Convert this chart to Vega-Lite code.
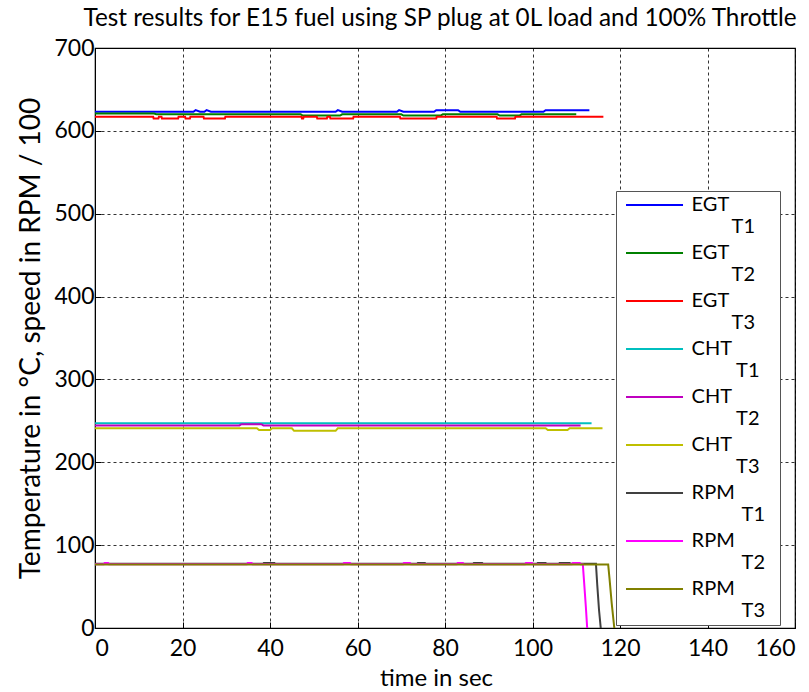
{
  "$schema": "https://vega.github.io/schema/vega-lite/v6.json",
  "width": 700,
  "height": 580,
  "autosize": {"type": "none"},
  "padding": {"left": 95, "top": 48, "right": 14, "bottom": 64},
  "background": "white",
  "title": {
    "text": "Test results for E15 fuel using SP plug at 0L load and 100% Throttle",
    "fontSize": 24.3,
    "fontWeight": "normal",
    "font": "Lato",
    "color": "black",
    "anchor": "middle",
    "offset": 6,
    "dx": -5
  },
  "config": {
    "font": "Lato",
    "view": {"stroke": "black", "strokeWidth": 1.2},
    "axis": {
      "labelFontSize": 23,
      "labelColor": "black",
      "titleFontSize": 24,
      "titleFontWeight": "normal",
      "titleColor": "black",
      "domainColor": "black",
      "tickColor": "black",
      "gridColor": "black",
      "gridDash": [3, 3],
      "gridOpacity": 0.8,
      "gridWidth": 1,
      "tickSize": -6
    },
    "legend": {
      "orient": "none",
      "legendX": 521,
      "legendY": 143,
      "strokeColor": "#555555",
      "fillColor": "white",
      "padding": 4,
      "symbolType": "M-0.7,0H9.3",
      "symbolSize": 130,
      "symbolStrokeWidth": 2,
      "labelFontSize": 20,
      "labelColor": "black",
      "labelOffset": 51.6,
      "rowPadding": 6
    }
  },
  "datasets": {
    "d": [
      {"s": "EGT_T1", "t": 0, "v": 623}, {"s": "EGT_T1", "t": 22.5, "v": 623}, {"s": "EGT_T1", "t": 23, "v": 625}, {"s": "EGT_T1", "t": 24, "v": 623}, {"s": "EGT_T1", "t": 25, "v": 623}, {"s": "EGT_T1", "t": 25.5, "v": 625}, {"s": "EGT_T1", "t": 26.5, "v": 623}, {"s": "EGT_T1", "t": 55, "v": 623}, {"s": "EGT_T1", "t": 55.5, "v": 625}, {"s": "EGT_T1", "t": 56.5, "v": 623}, {"s": "EGT_T1", "t": 69, "v": 623}, {"s": "EGT_T1", "t": 69.5, "v": 625}, {"s": "EGT_T1", "t": 70.5, "v": 623}, {"s": "EGT_T1", "t": 77.5, "v": 623}, {"s": "EGT_T1", "t": 78, "v": 625}, {"s": "EGT_T1", "t": 83, "v": 625}, {"s": "EGT_T1", "t": 83.5, "v": 623}, {"s": "EGT_T1", "t": 102.5, "v": 623}, {"s": "EGT_T1", "t": 103, "v": 625}, {"s": "EGT_T1", "t": 113, "v": 625},

      {"s": "EGT_T2", "t": 0, "v": 621}, {"s": "EGT_T2", "t": 13.5, "v": 621}, {"s": "EGT_T2", "t": 14, "v": 620}, {"s": "EGT_T2", "t": 47, "v": 620}, {"s": "EGT_T2", "t": 47.5, "v": 618.5}, {"s": "EGT_T2", "t": 56, "v": 618.5}, {"s": "EGT_T2", "t": 56.5, "v": 620}, {"s": "EGT_T2", "t": 70, "v": 620}, {"s": "EGT_T2", "t": 70.5, "v": 618.5}, {"s": "EGT_T2", "t": 79, "v": 618.5}, {"s": "EGT_T2", "t": 79.5, "v": 620}, {"s": "EGT_T2", "t": 92, "v": 620}, {"s": "EGT_T2", "t": 92.5, "v": 618.5}, {"s": "EGT_T2", "t": 97, "v": 618.5}, {"s": "EGT_T2", "t": 97.5, "v": 620}, {"s": "EGT_T2", "t": 110, "v": 620},

      {"s": "EGT_T3", "t": 0, "v": 617}, {"s": "EGT_T3", "t": 13.3, "v": 617}, {"s": "EGT_T3", "t": 13.4, "v": 615}, {"s": "EGT_T3", "t": 14.5, "v": 615}, {"s": "EGT_T3", "t": 14.6, "v": 617}, {"s": "EGT_T3", "t": 15.2, "v": 617}, {"s": "EGT_T3", "t": 15.3, "v": 615}, {"s": "EGT_T3", "t": 19, "v": 615}, {"s": "EGT_T3", "t": 19.1, "v": 617}, {"s": "EGT_T3", "t": 20.6, "v": 617}, {"s": "EGT_T3", "t": 20.7, "v": 615}, {"s": "EGT_T3", "t": 21.7, "v": 615}, {"s": "EGT_T3", "t": 21.8, "v": 617}, {"s": "EGT_T3", "t": 24.8, "v": 617}, {"s": "EGT_T3", "t": 24.9, "v": 615}, {"s": "EGT_T3", "t": 29.7, "v": 615}, {"s": "EGT_T3", "t": 29.8, "v": 617}, {"s": "EGT_T3", "t": 47.2, "v": 617}, {"s": "EGT_T3", "t": 47.3, "v": 615}, {"s": "EGT_T3", "t": 47.6, "v": 615}, {"s": "EGT_T3", "t": 47.7, "v": 617}, {"s": "EGT_T3", "t": 50.7, "v": 617}, {"s": "EGT_T3", "t": 50.8, "v": 615}, {"s": "EGT_T3", "t": 53, "v": 615}, {"s": "EGT_T3", "t": 53.1, "v": 617}, {"s": "EGT_T3", "t": 53.7, "v": 617}, {"s": "EGT_T3", "t": 53.8, "v": 615}, {"s": "EGT_T3", "t": 59, "v": 615}, {"s": "EGT_T3", "t": 59.1, "v": 617}, {"s": "EGT_T3", "t": 69.7, "v": 617}, {"s": "EGT_T3", "t": 69.8, "v": 615}, {"s": "EGT_T3", "t": 78, "v": 615}, {"s": "EGT_T3", "t": 78.1, "v": 617}, {"s": "EGT_T3", "t": 91.8, "v": 617}, {"s": "EGT_T3", "t": 91.9, "v": 615}, {"s": "EGT_T3", "t": 96, "v": 615}, {"s": "EGT_T3", "t": 96.1, "v": 617}, {"s": "EGT_T3", "t": 116.2, "v": 617},

      {"s": "CHT_T1", "t": 0, "v": 247}, {"s": "CHT_T1", "t": 113.5, "v": 247},

      {"s": "CHT_T2", "t": 0, "v": 244.5}, {"s": "CHT_T2", "t": 33, "v": 244.5}, {"s": "CHT_T2", "t": 33.5, "v": 246}, {"s": "CHT_T2", "t": 38, "v": 246}, {"s": "CHT_T2", "t": 38.5, "v": 244.5}, {"s": "CHT_T2", "t": 111, "v": 244.5},

      {"s": "CHT_T3", "t": 0, "v": 241}, {"s": "CHT_T3", "t": 37, "v": 241}, {"s": "CHT_T3", "t": 37.5, "v": 239}, {"s": "CHT_T3", "t": 40, "v": 239}, {"s": "CHT_T3", "t": 40.5, "v": 241}, {"s": "CHT_T3", "t": 45, "v": 241}, {"s": "CHT_T3", "t": 45.5, "v": 238}, {"s": "CHT_T3", "t": 55, "v": 238}, {"s": "CHT_T3", "t": 55.5, "v": 241}, {"s": "CHT_T3", "t": 103, "v": 241}, {"s": "CHT_T3", "t": 103.5, "v": 239}, {"s": "CHT_T3", "t": 108, "v": 239}, {"s": "CHT_T3", "t": 108.5, "v": 241}, {"s": "CHT_T3", "t": 116, "v": 241},

      {"s": "RPM_T1", "t": 0, "v": 77.5}, {"s": "RPM_T1", "t": 38.4, "v": 77.5}, {"s": "RPM_T1", "t": 38.6, "v": 78.5}, {"s": "RPM_T1", "t": 41, "v": 78.5}, {"s": "RPM_T1", "t": 41.2, "v": 77.5}, {"s": "RPM_T1", "t": 73.6, "v": 77.5}, {"s": "RPM_T1", "t": 73.8, "v": 78.5}, {"s": "RPM_T1", "t": 75.4, "v": 78.5}, {"s": "RPM_T1", "t": 75.6, "v": 77.5}, {"s": "RPM_T1", "t": 86.4, "v": 77.5}, {"s": "RPM_T1", "t": 86.6, "v": 78.5}, {"s": "RPM_T1", "t": 88.5, "v": 78.5}, {"s": "RPM_T1", "t": 88.7, "v": 77.5}, {"s": "RPM_T1", "t": 101, "v": 77.5}, {"s": "RPM_T1", "t": 101.2, "v": 78.5}, {"s": "RPM_T1", "t": 103, "v": 78.5}, {"s": "RPM_T1", "t": 103.2, "v": 77.5}, {"s": "RPM_T1", "t": 106, "v": 77.5}, {"s": "RPM_T1", "t": 106.2, "v": 78.5}, {"s": "RPM_T1", "t": 108.5, "v": 78.5}, {"s": "RPM_T1", "t": 108.7, "v": 77.5}, {"s": "RPM_T1", "t": 114.5, "v": 77.5}, {"s": "RPM_T1", "t": 114.8, "v": 52}, {"s": "RPM_T1", "t": 115.2, "v": 22}, {"s": "RPM_T1", "t": 115.6, "v": 0},

      {"s": "RPM_T2", "t": 0, "v": 77}, {"s": "RPM_T2", "t": 2, "v": 77}, {"s": "RPM_T2", "t": 2.2, "v": 78.5}, {"s": "RPM_T2", "t": 3, "v": 78.5}, {"s": "RPM_T2", "t": 3.2, "v": 77}, {"s": "RPM_T2", "t": 34.7, "v": 77}, {"s": "RPM_T2", "t": 34.9, "v": 78.5}, {"s": "RPM_T2", "t": 35.8, "v": 78.5}, {"s": "RPM_T2", "t": 36, "v": 77}, {"s": "RPM_T2", "t": 56.7, "v": 77}, {"s": "RPM_T2", "t": 56.9, "v": 78.5}, {"s": "RPM_T2", "t": 58.3, "v": 78.5}, {"s": "RPM_T2", "t": 58.5, "v": 77}, {"s": "RPM_T2", "t": 70.4, "v": 77}, {"s": "RPM_T2", "t": 70.6, "v": 78.5}, {"s": "RPM_T2", "t": 72, "v": 78.5}, {"s": "RPM_T2", "t": 72.2, "v": 77}, {"s": "RPM_T2", "t": 82.7, "v": 77}, {"s": "RPM_T2", "t": 82.9, "v": 78.5}, {"s": "RPM_T2", "t": 84.1, "v": 78.5}, {"s": "RPM_T2", "t": 84.3, "v": 77}, {"s": "RPM_T2", "t": 98.3, "v": 77}, {"s": "RPM_T2", "t": 98.5, "v": 78.5}, {"s": "RPM_T2", "t": 99.9, "v": 78.5}, {"s": "RPM_T2", "t": 100.1, "v": 77}, {"s": "RPM_T2", "t": 109, "v": 77}, {"s": "RPM_T2", "t": 109.2, "v": 78.5}, {"s": "RPM_T2", "t": 110.8, "v": 78.5}, {"s": "RPM_T2", "t": 111, "v": 77}, {"s": "RPM_T2", "t": 111.5, "v": 77}, {"s": "RPM_T2", "t": 111.8, "v": 55}, {"s": "RPM_T2", "t": 112.2, "v": 25}, {"s": "RPM_T2", "t": 112.5, "v": 0},

      {"s": "RPM_T3", "t": 0, "v": 76.5}, {"s": "RPM_T3", "t": 117.3, "v": 76.5}, {"s": "RPM_T3", "t": 117.6, "v": 60}, {"s": "RPM_T3", "t": 118.1, "v": 30}, {"s": "RPM_T3", "t": 118.7, "v": 0}
    ]
  },
  "data": {"name": "d"},
  "mark": {"type": "line", "strokeWidth": 2, "clip": true},
  "encoding": {
    "x": {
      "field": "t",
      "type": "quantitative",
      "scale": {"domain": [0, 160], "nice": false},
      "axis": {"values": [0, 20, 40, 60, 80, 100, 120, 140, 160], "title": "time in sec", "labelPadding": 15, "titlePadding": 6, "titleX": 341, "grid": true}
    },
    "y": {
      "field": "v",
      "type": "quantitative",
      "scale": {"domain": [0, 700], "nice": false},
      "axis": {"values": [0, 100, 200, 300, 400, 500, 600, 700], "title": "Temperature in  °C, speed in RPM / 100", "titleFontSize": 28, "titleY": 290, "labelPadding": 7, "titlePadding": 8, "grid": true}
    },
    "color": {
      "field": "s",
      "type": "nominal",
      "scale": {
        "domain": ["EGT_T1", "EGT_T2", "EGT_T3", "CHT_T1", "CHT_T2", "CHT_T3", "RPM_T1", "RPM_T2", "RPM_T3"],
        "range": ["#0000FF", "#008000", "#FF0000", "#00BFBF", "#BF00BF", "#BFBF00", "#404040", "#FF00FF", "#808000"]
      },
      "legend": {
        "title": null,
        "labelExpr": "[split(datum.label, '_')[0], '\u200b' + (split(datum.label, '_')[0] == 'EGT' ? '\u2002\u2002\u2002\u2002' : split(datum.label, '_')[0] == 'CHT' ? '\u2002\u2002\u2002\u2002\u00a0' : '\u2002\u2002\u2002\u2002\u2002') + split(datum.label, '_')[1] + '\u00a0\u00a0\u200b']"
      }
    }
  }
}
